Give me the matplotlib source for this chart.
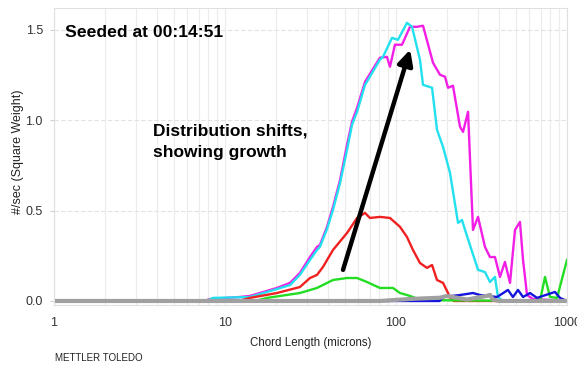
import numpy as np
import matplotlib
matplotlib.use("Agg")
import matplotlib.pyplot as plt
from matplotlib.ticker import FixedLocator, NullFormatter

plt.rcParams['font.family'] = ['Liberation Sans', 'DejaVu Sans']

# chord length (microns) and counts (#/sec, square weight)
mag_x = [1.0, 7.5, 8.2, 12.2, 14.0, 20.1, 24.0, 27.4, 31.4, 34.5, 35.9, 39.5, 42.8, 47.1, 51.7,
         55.3, 59.2, 65.9, 80.5, 88.5, 92.2, 98.6, 108.4, 120.7, 132.7, 143.9, 164.6, 180.8, 193.5,
         201.5, 215.4, 236.8, 246.6, 263.8, 282.0, 301.8, 331.3, 354.5, 379.1, 405.5, 433.6, 464.3,
         496.5, 530.8, 553.2, 583.7, 632.5, 1000]
mag_y = [0, 0, 0.011, 0.022, 0.028, 0.072, 0.100, 0.155, 0.243, 0.299, 0.310, 0.410, 0.520, 0.670,
         0.863, 0.991, 1.068, 1.212, 1.345, 1.350, 1.295, 1.417, 1.417, 1.516, 1.516, 1.522, 1.317,
         1.251, 1.240, 1.179, 1.190, 0.963, 0.935, 1.046, 0.393, 0.465, 0.299, 0.243, 0.243, 0.133,
         0.216, 0.100, 0.393, 0.437, 0.227, 0.033, 0.011, 0]

cyan_x = [1.0, 7.8, 8.5, 14.0, 20.1, 24.0, 27.4, 31.4, 34.5, 35.9, 39.5, 42.8, 47.1, 51.7, 55.3,
          59.2, 65.9, 80.5, 83.9, 94.8, 102.7, 115.9, 124.1, 138.1, 143.9, 162.5, 173.7, 188.4,
          207.0, 230.5, 243.2, 253.3, 301.8, 331.3, 354.5, 379.1, 394.7, 420, 1000]
cyan_y = [0, 0, 0.017, 0.022, 0.066, 0.088, 0.144, 0.227, 0.282, 0.299, 0.398, 0.504, 0.653, 0.835,
          0.974, 1.046, 1.195, 1.334, 1.350, 1.455, 1.444, 1.538, 1.516, 1.334, 1.195, 1.179, 0.946,
          0.852, 0.708, 0.432, 0.448, 0.393, 0.172, 0.160, 0.105, 0.133, 0.022, 0, 0]

red_x = [1.0, 12.0, 14.0, 20.1, 27.4, 31.4, 34.5, 37.4, 42.8, 51.7, 59.2, 65.9, 70.4, 80.5, 92.2,
         105.5, 115.9, 125.7, 138.1, 151.8, 162.5, 173.7, 188.4, 201.5, 207.0, 218, 1000]
red_y = [0, 0, 0.017, 0.044, 0.077, 0.127, 0.144, 0.188, 0.282, 0.376, 0.459, 0.487, 0.459, 0.465,
         0.459, 0.410, 0.354, 0.282, 0.210, 0.183, 0.199, 0.116, 0.100, 0.044, 0.017, 0, 0]

green_x = [1.0, 15.0, 17.6, 27.4, 34.5, 42.8, 51.7, 59.2, 67.6, 80.5, 96.0, 105.5, 115.9, 125.7,
           138.1, 667.6, 695.0, 743.5, 795.3, 874.4, 1000]
green_y = [0, 0, 0.017, 0.044, 0.072, 0.116, 0.127, 0.127, 0.105, 0.072, 0.072, 0.044, 0.033, 0.022,
           0.005, 0, 0, 0.133, 0.022, 0.017, 0.227]

blue_x = [1.0, 180, 188.4, 236.8, 282.0, 309.9, 389.7, 451.6, 483.0, 516.8, 553.2, 607.8, 667.6,
          850.4, 910.0, 1000]
blue_y = [0, 0, 0.022, 0.033, 0.044, 0.033, 0.022, 0.061, 0.022, 0.061, 0.022, 0.044, 0.017,
          0.050, 0.017, 0]

gray_x = [1.0, 80, 125.7, 180.8, 198.8, 260.2, 340.3, 354.5, 369.0, 400, 1000]
gray_y = [0, 0, 0.012, 0.018, 0.028, 0.008, 0.028, 0.034, 0.008, 0, 0]

x_ticks = [1, 10, 100, 1000]
x_labels = ["1", "10", "100", "1000"]
y_ticks = [0.0, 0.5, 1.0, 1.5]
y_labels = ["0.0", "0.5", "1.0", "1.5"]

fig = plt.figure(figsize=(5.77, 3.67), dpi=100)
ax = fig.add_axes([54/577, 1 - 304.6/367, (567-54)/577, (304.6-8)/367])

ax.set_xscale("log")
ax.set_xlim(1, 1000)
ax.set_ylim(-0.02, 1.62)

minors = [m * 10**d for d in range(0, 3) for m in range(2, 10)]
ax.xaxis.set_minor_locator(FixedLocator(minors))
ax.xaxis.set_minor_formatter(NullFormatter())
ax.set_xticks(x_ticks)
ax.set_xticklabels(x_labels)
ax.set_yticks(y_ticks)
ax.set_yticklabels(y_labels)

ax.grid(True, which="both", axis="x", color="#ececec", lw=0.8)
ax.grid(True, which="major", axis="y", color="#e2e2e2", lw=0.8, ls=(0, (4, 2)))
ax.set_axisbelow(True)

ax.tick_params(axis="both", which="major", labelsize=9, colors="#d0d0d0", labelcolor="#333333",
               length=3)
ax.tick_params(axis="x", which="major", length=0, pad=9)
ax.tick_params(axis="y", which="major", pad=5)
ax.tick_params(axis="x", which="minor", length=0)
for s in ax.spines.values():
    s.set_color("#e0e0e0")
    s.set_linewidth(0.8)

ax.plot(mag_x, mag_y, color="#f21ee6", lw=1.7)
ax.plot(cyan_x, cyan_y, color="#22e0ee", lw=1.7)
ax.plot(red_x, red_y, color="#f02020", lw=1.7)
ax.plot(green_x, green_y, color="#22dd22", lw=1.7)
ax.plot(blue_x, blue_y, color="#1414dd", lw=1.7)
ax.plot(gray_x, gray_y, color="#a0a0a0", lw=3)

ax.annotate("", xy=(121, 1.39), xytext=(49, 0.172),
            arrowprops=dict(arrowstyle="-|>,head_length=0.9,head_width=0.45", color="black",
                            lw=3.2, shrinkA=0, shrinkB=0))

ax.text(1.16, 1.487, "Seeded at 00:14:51", fontsize=12.6, fontweight="bold", va="center", ha="left")
ax.text(3.79, 0.88, "Distribution shifts,\nshowing growth", fontsize=12.5, fontweight="bold",
        va="center", ha="left", linespacing=1.55)

ax.set_xlabel("Chord Length (microns)", fontsize=8.3, color="#222222", labelpad=6)
ax.set_ylabel("#/sec (Square Weight)", fontsize=9, color="#222222")
ax.yaxis.set_label_coords(-0.058, 0.515)

fig.text(55/577, 1 - 358/367, "METTLER TOLEDO", fontsize=7, color="#222222", va="center")

fig.savefig("out.png", dpi=100)
